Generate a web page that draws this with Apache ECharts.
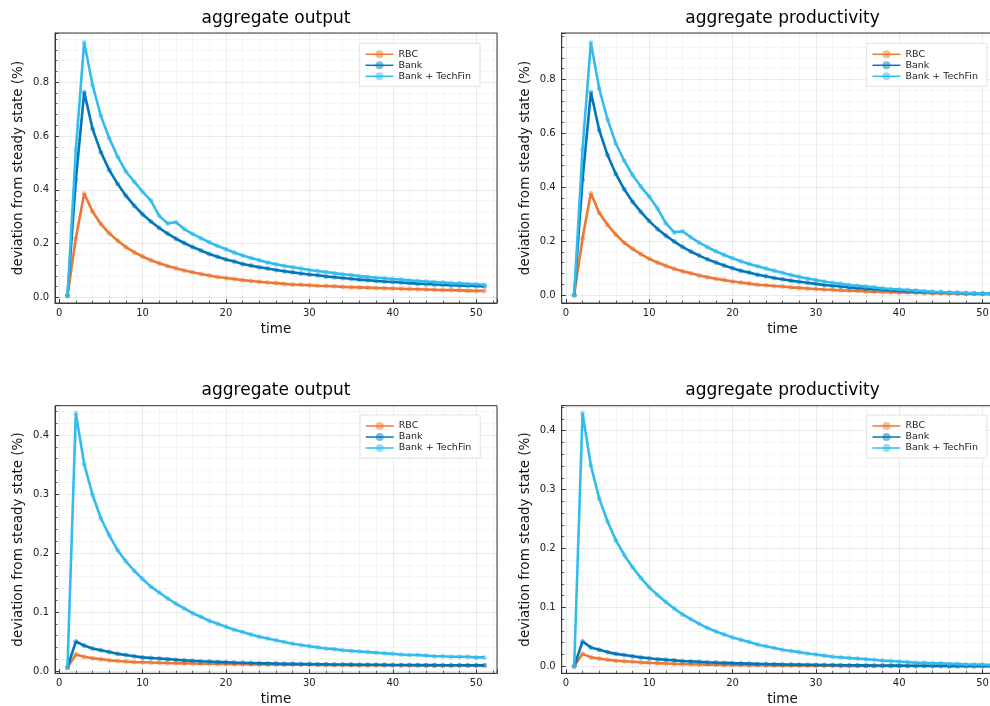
<!DOCTYPE html>
<html>
<head>
<meta charset="utf-8">
<script src="https://cdn.jsdelivr.net/npm/echarts@6/dist/echarts.min.js"></script>
<style>
  html, body { margin: 0; padding: 0; background: #ffffff; }
  #chart { width: 990px; height: 706px; }
</style>
</head>
<body>
<div id="chart"></div>
<script>
// Periods after the shock
const time = [1, 2, 3, 4, 5, 6, 7, 8, 9, 10,
  11, 12, 13, 14, 15, 16, 17, 18, 19, 20,
  21, 22, 23, 24, 25, 26, 27, 28, 29, 30,
  31, 32, 33, 34, 35, 36, 37, 38, 39, 40,
  41, 42, 43, 44, 45, 46, 47, 48, 49, 50, 51];

const seriesNames = ['RBC', 'Bank', 'Bank + TechFin'];

// Upper row: aggregate output
const outRbcA = [0.006, 0.220, 0.386, 0.319, 0.273, 0.238, 0.211, 0.187, 0.168, 0.152,
  0.138, 0.127, 0.117, 0.108, 0.100, 0.093, 0.087, 0.081, 0.076, 0.072,
  0.068, 0.064, 0.061, 0.058, 0.055, 0.053, 0.050, 0.048, 0.047, 0.045,
  0.043, 0.042, 0.041, 0.039, 0.038, 0.037, 0.036, 0.035, 0.034, 0.033,
  0.032, 0.031, 0.030, 0.029, 0.028, 0.027, 0.027, 0.026, 0.025, 0.024, 0.024];
const outBankA = [0.006, 0.437, 0.763, 0.627, 0.540, 0.474, 0.422, 0.378, 0.341, 0.309,
  0.282, 0.258, 0.237, 0.218, 0.202, 0.187, 0.174, 0.161, 0.151, 0.141,
  0.133, 0.124, 0.118, 0.112, 0.107, 0.102, 0.097, 0.093, 0.089, 0.085,
  0.082, 0.078, 0.075, 0.072, 0.069, 0.066, 0.064, 0.061, 0.059, 0.057,
  0.055, 0.053, 0.051, 0.050, 0.048, 0.047, 0.045, 0.044, 0.043, 0.042, 0.041];
const outTechA = [0.006, 0.548, 0.949, 0.790, 0.675, 0.592, 0.524, 0.468, 0.430, 0.393,
  0.360, 0.303, 0.275, 0.279, 0.254, 0.236, 0.220, 0.205, 0.191, 0.179,
  0.167, 0.156, 0.146, 0.138, 0.130, 0.123, 0.117, 0.112, 0.107, 0.102,
  0.098, 0.094, 0.090, 0.086, 0.083, 0.079, 0.076, 0.073, 0.071, 0.068,
  0.066, 0.063, 0.061, 0.059, 0.057, 0.055, 0.053, 0.052, 0.050, 0.049, 0.047];

// Upper row: aggregate productivity
const prodRbcA = [0.000, 0.210, 0.377, 0.305, 0.260, 0.224, 0.194, 0.171, 0.151, 0.134,
  0.120, 0.108, 0.097, 0.088, 0.080, 0.072, 0.066, 0.060, 0.055, 0.050,
  0.046, 0.042, 0.038, 0.036, 0.033, 0.031, 0.028, 0.026, 0.024, 0.022,
  0.020, 0.019, 0.017, 0.016, 0.015, 0.013, 0.012, 0.011, 0.010, 0.009,
  0.009, 0.008, 0.007, 0.006, 0.006, 0.005, 0.005, 0.004, 0.004, 0.003, 0.003];
const prodBankA = [0.000, 0.427, 0.752, 0.612, 0.519, 0.449, 0.392, 0.346, 0.308, 0.274,
  0.245, 0.220, 0.198, 0.178, 0.161, 0.146, 0.132, 0.120, 0.109, 0.099,
  0.090, 0.083, 0.075, 0.069, 0.063, 0.058, 0.053, 0.049, 0.045, 0.041,
  0.037, 0.034, 0.031, 0.028, 0.026, 0.023, 0.021, 0.019, 0.017, 0.015,
  0.014, 0.012, 0.011, 0.010, 0.009, 0.008, 0.007, 0.006, 0.005, 0.005, 0.004];
const prodTechA = [0.000, 0.540, 0.937, 0.766, 0.651, 0.562, 0.498, 0.445, 0.402, 0.365,
  0.321, 0.266, 0.232, 0.236, 0.214, 0.194, 0.177, 0.162, 0.148, 0.136,
  0.125, 0.115, 0.106, 0.098, 0.090, 0.082, 0.074, 0.067, 0.061, 0.055,
  0.050, 0.045, 0.041, 0.037, 0.034, 0.031, 0.028, 0.025, 0.022, 0.020,
  0.018, 0.016, 0.014, 0.012, 0.011, 0.009, 0.008, 0.007, 0.006, 0.005, 0.004];

// Lower row: aggregate output
const outRbcB = [0.006, 0.028, 0.024, 0.0215, 0.020, 0.018, 0.017, 0.016, 0.015, 0.0147,
  0.0142, 0.0138, 0.0134, 0.0131, 0.0128, 0.0125, 0.0123, 0.0121, 0.0119, 0.0117,
  0.0115, 0.0114, 0.0112, 0.0111, 0.0110, 0.0108, 0.0107, 0.0106, 0.0105, 0.0104,
  0.0103, 0.0102, 0.0101, 0.0100, 0.0099, 0.0098, 0.0098, 0.0097, 0.0097, 0.0096,
  0.0096, 0.0095, 0.0095, 0.0094, 0.0094, 0.0094, 0.0093, 0.0093, 0.0093, 0.0092, 0.0092];
const outBankB = [0.006, 0.050, 0.043, 0.038, 0.035, 0.032, 0.029, 0.027, 0.025, 0.023,
  0.022, 0.021, 0.020, 0.019, 0.018, 0.0172, 0.0165, 0.0159, 0.0153, 0.0148,
  0.0143, 0.0139, 0.0135, 0.0131, 0.0128, 0.0125, 0.0122, 0.0120, 0.0118, 0.0116,
  0.0114, 0.0112, 0.0110, 0.0109, 0.0108, 0.0106, 0.0105, 0.0104, 0.0103, 0.0102,
  0.0101, 0.0100, 0.0099, 0.0098, 0.0098, 0.0097, 0.0097, 0.0096, 0.0096, 0.0095, 0.0095];
const outTechB = [0.007, 0.437, 0.351, 0.299, 0.259, 0.230, 0.205, 0.186, 0.170, 0.156,
  0.143, 0.133, 0.123, 0.114, 0.106, 0.098, 0.092, 0.085, 0.080, 0.075,
  0.070, 0.066, 0.062, 0.058, 0.055, 0.052, 0.049, 0.046, 0.044, 0.042,
  0.040, 0.038, 0.037, 0.035, 0.034, 0.033, 0.032, 0.031, 0.030, 0.029,
  0.028, 0.027, 0.027, 0.026, 0.025, 0.025, 0.024, 0.024, 0.024, 0.023, 0.023];

// Lower row: aggregate productivity
const prodRbcB = [0.000, 0.021, 0.015, 0.013, 0.011, 0.0095, 0.0085, 0.0075, 0.0065, 0.0058,
  0.0052, 0.0047, 0.0042, 0.0038, 0.0034, 0.0031, 0.0028, 0.0025, 0.0023, 0.0021,
  0.0019, 0.0017, 0.0016, 0.0014, 0.0013, 0.0012, 0.0011, 0.0010, 0.0009, 0.0008,
  0.0008, 0.0007, 0.0006, 0.0006, 0.0005, 0.0005, 0.0005, 0.0004, 0.0004, 0.0003,
  0.0003, 0.0003, 0.0003, 0.0002, 0.0002, 0.0002, 0.0002, 0.0002, 0.0001, 0.0001, 0.0001];
const prodBankB = [0.000, 0.042, 0.032, 0.028, 0.024, 0.021, 0.019, 0.017, 0.015, 0.0135,
  0.012, 0.011, 0.010, 0.009, 0.0082, 0.0075, 0.0068, 0.0062, 0.0057, 0.0052,
  0.0048, 0.0044, 0.0040, 0.0037, 0.0034, 0.0031, 0.0029, 0.0027, 0.0025, 0.0023,
  0.0021, 0.0019, 0.0018, 0.0016, 0.0015, 0.0014, 0.0013, 0.0012, 0.0011, 0.0010,
  0.0009, 0.0009, 0.0008, 0.0007, 0.0007, 0.0006, 0.0006, 0.0005, 0.0005, 0.0005, 0.0004];
const prodTechB = [0.000, 0.430, 0.341, 0.285, 0.246, 0.214, 0.189, 0.168, 0.150, 0.134,
  0.121, 0.109, 0.098, 0.088, 0.080, 0.072, 0.065, 0.059, 0.054, 0.049,
  0.045, 0.041, 0.037, 0.034, 0.031, 0.028, 0.026, 0.024, 0.0215, 0.020,
  0.018, 0.016, 0.015, 0.014, 0.013, 0.012, 0.011, 0.0096, 0.009, 0.008,
  0.007, 0.006, 0.006, 0.005, 0.005, 0.004, 0.004, 0.003, 0.003, 0.003, 0.002];

// Panel layout (pixels) and value ranges
const panels = [
  { title: 'aggregate output',       lines: [outRbcA, outBankA, outTechA],
    yMin: -0.021, yMax: 0.983, left: 55,    top: 33,    width: 442,   height: 270,   legendLeft: 359.7, legendTop: 43.3, titleTop: 10.5 },
  { title: 'aggregate productivity', lines: [prodRbcA, prodBankA, prodTechA],
    yMin: -0.030, yMax: 0.972, left: 561.7, top: 33,    width: 441.7, height: 270,   legendLeft: 866.7, legendTop: 43.3, titleTop: 10.5 },
  { title: 'aggregate output',       lines: [outRbcB, outBankB, outTechB],
    yMin: -0.004, yMax: 0.450, left: 55,    top: 405.7, width: 442,   height: 267.6, legendLeft: 360,   legendTop: 415,  titleTop: 381.7 },
  { title: 'aggregate productivity', lines: [prodRbcB, prodBankB, prodTechB],
    yMin: -0.012, yMax: 0.4425, left: 561.7, top: 405.7, width: 441.7, height: 267.6, legendLeft: 866.7, legendTop: 415,  titleTop: 381.7 }
];

const colors = ['#EE7733', '#0077BB', '#33BBEE'];
const FONT = 'DejaVu Sans';
const frameColor = '#3a3a3a';

function isMultiple(v, step) {
  const q = v / step;
  return Math.abs(q - Math.round(q)) < 1e-6;
}

const option = {
  backgroundColor: '#ffffff',
  animation: false,
  title: [], grid: [], xAxis: [], yAxis: [], legend: [], series: []
};

panels.forEach((p, i) => {
  option.title.push({
    text: p.title,
    left: p.left + p.width / 2,
    top: p.titleTop,
    textAlign: 'center',
    padding: 0,
    textStyle: { fontFamily: FONT, fontSize: 17, fontWeight: 'normal', color: '#000' }
  });
  option.grid.push({
    left: p.left, top: p.top, width: p.width, height: p.height,
    outerBoundsMode: 'none', containLabel: false,
    show: true, backgroundColor: '#ffffff', borderColor: frameColor, borderWidth: 1
  });
  option.xAxis.push({
    type: 'value', gridIndex: i, min: -0.5, max: 52.5, splitNumber: 5,
    name: 'time', nameLocation: 'middle', nameGap: 19.5,
    nameTextStyle: { fontFamily: FONT, fontSize: 13.5, color: '#111' },
    axisLine: { show: true, onZero: false, lineStyle: { color: frameColor, width: 1 } },
    axisTick: { show: true, inside: true, length: 4, lineStyle: { color: frameColor, width: 1 } },
    minorTick: { show: true, splitNumber: 5, length: 2.5, lineStyle: { color: frameColor, width: 0.8 } },
    splitLine: { show: true, lineStyle: { color: 'rgba(0,0,0,0.1)', width: 0.8 } },
    minorSplitLine: { show: true, lineStyle: { color: 'rgba(0,0,0,0.05)', width: 0.8 } },
    axisLabel: {
      fontFamily: FONT, fontSize: 10, color: '#222', margin: 5,
      formatter: v => (isMultiple(v, 10) ? String(Math.round(v)) : '')
    }
  });
  option.yAxis.push({
    type: 'value', gridIndex: i, min: p.yMin, max: p.yMax, splitNumber: 5,
    name: 'deviation from steady state (%)', nameLocation: 'middle', nameGap: 29.5,
    nameTextStyle: { fontFamily: FONT, fontSize: 13.5, color: '#111' },
    axisLine: { show: true, onZero: false, lineStyle: { color: frameColor, width: 1 } },
    axisTick: { show: true, inside: true, length: 4, lineStyle: { color: frameColor, width: 1 } },
    minorTick: { show: true, splitNumber: 5, length: 2.5, lineStyle: { color: frameColor, width: 0.8 } },
    splitLine: { show: true, lineStyle: { color: 'rgba(0,0,0,0.1)', width: 0.8 } },
    minorSplitLine: { show: true, lineStyle: { color: 'rgba(0,0,0,0.05)', width: 0.8 } },
    axisLabel: {
      fontFamily: FONT, fontSize: 10, color: '#222', margin: 6,
      formatter: v => (isMultiple(v, 0.1) ? v.toFixed(1) : '')
    }
  });
  option.legend.push({
    orient: 'vertical', left: p.legendLeft, top: p.legendTop,
    padding: [6, 9, 5, 5], itemWidth: 28, itemHeight: 10, itemGap: 1,
    backgroundColor: '#ffffff', borderColor: '#e2e2e2', borderWidth: 1, borderRadius: 0,
    selectedMode: false,
    itemStyle: { opacity: 0.5 },
    lineStyle: { width: 1.5 },
    textStyle: { fontFamily: FONT, fontSize: 9.5, color: '#222', lineHeight: 10 },
    data: seriesNames
  });
  p.lines.forEach((vals, k) => {
    option.series.push({
      name: seriesNames[k], type: 'line', xAxisIndex: i, yAxisIndex: i,
      data: time.map((t, j) => [t, vals[j]]),
      color: colors[k],
      symbol: 'circle', symbolSize: 5, showSymbol: true,
      lineStyle: { width: 2.6, color: colors[k] },
      itemStyle: { color: colors[k], opacity: 0.45 },
      emphasis: { disabled: true },
      z: 2 + k
    });
  });
});

const chart = echarts.init(document.getElementById('chart'), null, { renderer: 'canvas' });
chart.setOption(option);
</script>
</body>
</html>
